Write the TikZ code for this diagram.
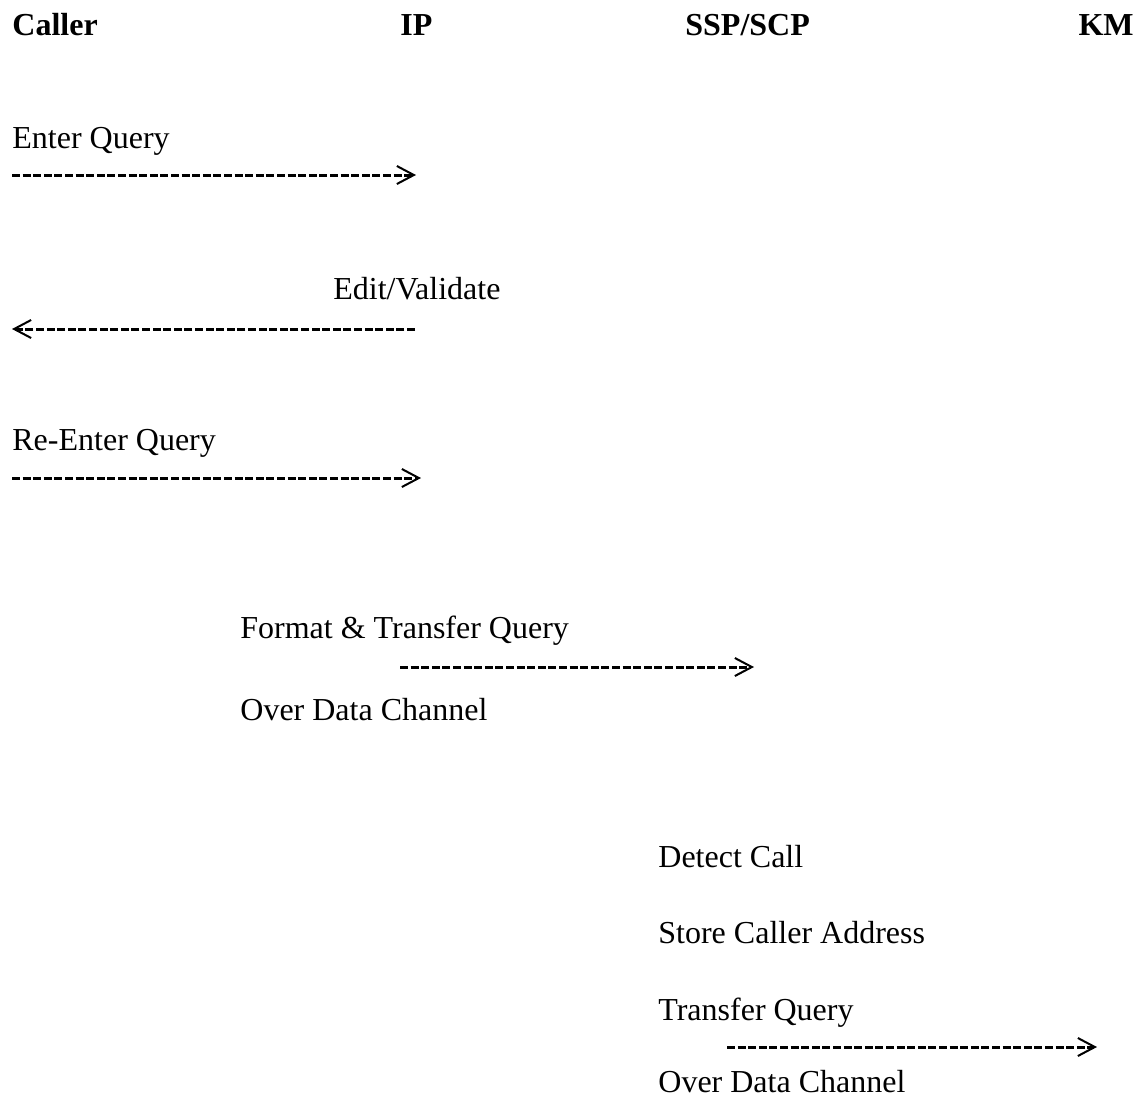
\documentclass[tikz,border=0pt]{standalone}
\usepackage{fontspec}
\setmainfont{Liberation Serif}
\usetikzlibrary{arrows.meta}

\begin{document}
\begin{tikzpicture}[x=0.5pt, y=-0.5pt, font=\fontsize{16}{19}\selectfont,
    lbl/.style={anchor=base west, inner sep=0pt},
    head/.style={lbl, font=\fontsize{16}{19}\selectfont\bfseries},
    msg/.style={line width=1.5pt, dash pattern=on 4pt off 1.3pt,
                -{Straight Barb[length=8.5pt, width=9pt, line width=1pt, sep=1.5pt]}}]
  \useasboundingbox (0,0) rectangle (1137,1100);

  % The four parties across the top.
  \node[head] (caller) at (12,35) {Caller};
  \node[head] (ip) at (400,35) {IP};
  \node[head] (sspscp) at (685,35) {SSP/SCP};
  \node[head, anchor=base east] (km) at (1134,35) {KM};

  % Caller <-> IP exchange.
  \node[lbl] (enterq) at (12,148) {Enter Query};
  \coordinate (e1a) at (12,175);  \coordinate (e1b) at (419,175);
  \draw[msg] (e1a) -- (e1b);

  \node[lbl] (editval) at (333,299) {Edit/Validate};
  \coordinate (e2a) at (415,329); \coordinate (e2b) at (9,329);
  \draw[msg] (e2a) -- (e2b);

  \node[lbl] (reenter) at (12,450) {Re-Enter Query};
  \coordinate (e3a) at (12,478);  \coordinate (e3b) at (424,478);
  \draw[msg] (e3a) -- (e3b);

  % IP -> SSP/SCP.
  \node[lbl] (fmtxfer) at (240,638) {Format \& Transfer Query};
  \coordinate (e4a) at (400,667); \coordinate (e4b) at (757,667);
  \draw[msg] (e4a) -- (e4b);
  \node[lbl] (overdc1) at (240,720) {Over Data Channel};

  % SSP/SCP -> KM.
  \node[lbl] (detect) at (658,867) {Detect Call};
  \node[lbl] (storeaddr) at (658,943) {Store Caller Address};
  \node[lbl] (xferq) at (658,1020) {Transfer Query};
  \coordinate (e5a) at (727,1047); \coordinate (e5b) at (1100,1047);
  \draw[msg] (e5a) -- (e5b);
  \node[lbl] (overdc2) at (658,1092) {Over Data Channel};
\end{tikzpicture}
\end{document}
